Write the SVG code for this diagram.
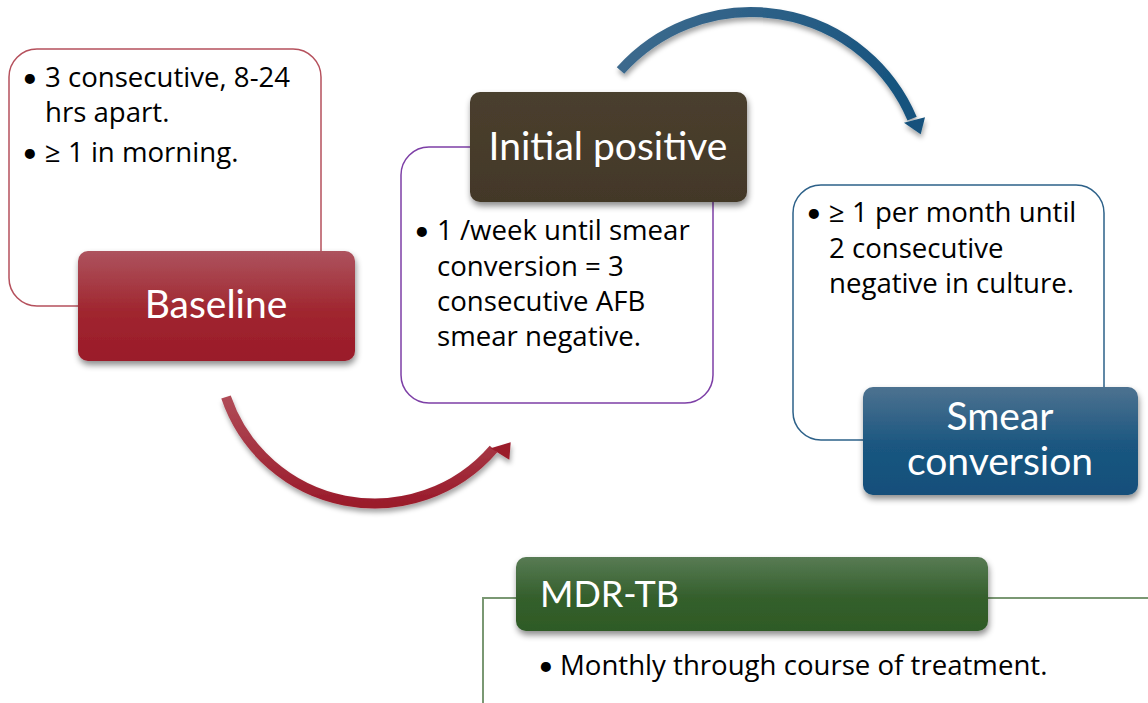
<svg xmlns="http://www.w3.org/2000/svg" width="1148" height="703" viewBox="0 0 1148 703">
<defs>
<style>
.body{font-family:"Open Sans","Liberation Sans",sans-serif;font-size:27.6px;fill:#000}
.bul{font-family:Lato,"Liberation Sans",sans-serif;font-size:27px;fill:#000}
.lbl{font-family:Lato,"Liberation Sans",sans-serif;font-size:39px;fill:#fff}
</style>
<filter id="sh" x="-10%" y="-20%" width="125%" height="150%">
<feDropShadow dx="1" dy="4" stdDeviation="3" flood-color="#000" flood-opacity="0.45"/>
</filter>
<filter id="ash" x="-10%" y="-10%" width="125%" height="130%">
<feDropShadow dx="1" dy="4" stdDeviation="2.5" flood-color="#000" flood-opacity="0.35"/>
</filter>
<linearGradient id="gRed" x1="0" y1="0" x2="0" y2="1">
<stop offset="0" stop-color="#ad535e"/><stop offset="0.55" stop-color="#a0262f"/><stop offset="1" stop-color="#9a1a2a"/>
</linearGradient>
<linearGradient id="gBrown" x1="0" y1="0" x2="0" y2="1">
<stop offset="0" stop-color="#4a3f2e"/><stop offset="1" stop-color="#433828"/>
</linearGradient>
<linearGradient id="gBlue" x1="0" y1="0" x2="0" y2="1">
<stop offset="0" stop-color="#4d7290"/><stop offset="0.55" stop-color="#1a5680"/><stop offset="1" stop-color="#134f7a"/>
</linearGradient>
<linearGradient id="gGreen" x1="0" y1="0" x2="0" y2="1">
<stop offset="0" stop-color="#587b54"/><stop offset="0.55" stop-color="#345f2c"/><stop offset="1" stop-color="#2e5a25"/>
</linearGradient>
<linearGradient id="aRed" gradientUnits="userSpaceOnUse" x1="0" y1="395" x2="0" y2="505">
<stop offset="0" stop-color="#b04c58"/><stop offset="1" stop-color="#9a1b2b"/>
</linearGradient>
<linearGradient id="aBlue" gradientUnits="userSpaceOnUse" x1="620" y1="10" x2="925" y2="135">
<stop offset="0" stop-color="#3f6b8e"/><stop offset="1" stop-color="#11507c"/>
</linearGradient>
</defs>
<rect width="1148" height="703" fill="#fff"/>

<g id="connectors">
<g filter="url(#ash)">
<path d="M226,397 A157,157 0 0 0 493.5,449" fill="none" stroke="url(#aRed)" stroke-width="10"/>
<polygon points="490.7,448.3 510.7,442.3 509.3,459.7" fill="#9b1c2c"/>
</g>
<g filter="url(#ash)">
<path d="M620.5,70.5 A175,175 0 0 1 912.1,118.6" fill="none" stroke="url(#aBlue)" stroke-width="10"/>
<polygon points="904,122.7 925,117.3 920.7,134.3" fill="#12517c"/>
</g>
<g fill="none" stroke="#7a9873" stroke-width="2">
<path d="M516,598 H483 V703"/>
<path d="M988,598 H1148"/>
</g>
</g>

<g id="baseline">
<rect x="9" y="49" width="312" height="257" rx="28" fill="#fff" stroke="#b5505c" stroke-width="1.5"/>
<text class="bul" x="22" y="87">•</text>
<text class="body" x="45" y="87">3 consecutive, 8-24</text>
<text class="body" x="45" y="122">hrs apart.</text>
<text class="bul" x="22" y="162">•</text>
<text class="body" x="45" y="162">≥ 1 in morning.</text>
<rect x="78" y="251" width="277" height="110" rx="10" fill="url(#gRed)" filter="url(#sh)"/>
<text class="lbl" x="216" y="318" text-anchor="middle">Baseline</text>
</g>

<g id="initial-positive">
<rect x="401" y="147" width="312" height="256" rx="28" fill="#fff" stroke="#7d3fa6" stroke-width="1.5"/>
<text class="bul" x="414" y="240">•</text>
<text class="body" x="437" y="240">1 /week until smear</text>
<text class="body" x="437" y="276">conversion = 3</text>
<text class="body" x="437" y="311">consecutive AFB</text>
<text class="body" x="437" y="346">smear negative.</text>
<rect x="470" y="92" width="277" height="110" rx="10" fill="url(#gBrown)" filter="url(#sh)"/>
<text class="lbl" x="608" y="160" text-anchor="middle">Initial positive</text>
</g>

<g id="smear-conversion">
<rect x="793" y="185" width="311" height="255" rx="28" fill="#fff" stroke="#2d6189" stroke-width="1.5"/>
<text class="bul" x="806" y="222">•</text>
<text class="body" x="829" y="222">≥ 1 per month until</text>
<text class="body" x="829" y="258">2 consecutive</text>
<text class="body" x="829" y="293">negative in culture.</text>
<rect x="863" y="387" width="275" height="108" rx="10" fill="url(#gBlue)" filter="url(#sh)"/>
<text class="lbl" x="1000" y="430" text-anchor="middle">Smear</text>
<text class="lbl" x="1000" y="475" text-anchor="middle">conversion</text>
</g>

<g id="mdr-tb">
<rect x="516" y="557" width="472" height="74" rx="10" fill="url(#gGreen)" filter="url(#sh)"/>
<text class="lbl" x="540" y="607" style="font-size:36px">MDR-TB</text>
<text class="bul" x="538" y="675">•</text>
<text class="body" x="560" y="675">Monthly through course of treatment.</text>
</g>
</svg>
